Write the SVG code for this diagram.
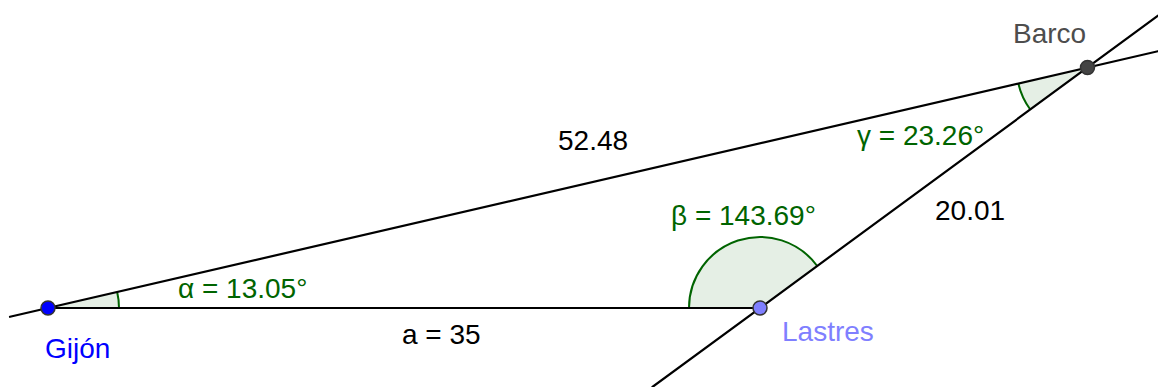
<svg xmlns="http://www.w3.org/2000/svg" width="1158" height="387" viewBox="0 0 1158 387">
<style>
.ln{stroke:#000;stroke-width:2.2;fill:none;stroke-linecap:round}
.sec{fill:#e5efe5;stroke:none}
.arc{fill:none;stroke:#006400;stroke-width:2}
text{font-family:"Liberation Sans",Arial,sans-serif;font-size:28px}
.ang{fill:#006400}
.val{fill:#000}
.pt{stroke:#333;stroke-width:1.5}
</style>
<rect width="1158" height="387" fill="#fff"/>
<g id="angles">
<path class="sec" d="M48 308 L119 308 A71 71 0 0 0 117.17 292 Z"/>
<path class="arc" d="M119 308 A71 71 0 0 0 117.17 292"/>
<path class="sec" d="M760 308 L689 308 A71 71 0 0 1 817.23 265.98 Z"/>
<path class="arc" d="M689 308 A71 71 0 0 1 817.23 265.98"/>
<path class="sec" d="M1087.5 67.5 L1018.33 83.51 A71 71 0 0 0 1030.27 109.52 Z"/>
<path class="arc" d="M1018.33 83.51 A71 71 0 0 0 1030.27 109.52"/>
</g>
<g id="connectors">
<line class="ln" x1="10" y1="316.8" x2="1158" y2="51.2"/>
<line class="ln" x1="652.4" y1="387" x2="1158" y2="15.7"/>
<line class="ln" x1="48" y1="308" x2="760" y2="308"/>
</g>
<g id="labels">
<text class="val" x="558" y="150">52.48</text>
<text class="val" x="402" y="344">a = 35</text>
<text class="val" x="935" y="220">20.01</text>
<text class="ang" x="178" y="298">α = 13.05°</text>
<text class="ang" x="671" y="225">β = 143.69°</text>
<text class="ang" x="857" y="145">γ = 23.26°</text>
</g>
<g id="gijon">
<circle class="pt" cx="48" cy="308" r="7" fill="#0000ff"/>
<text x="45" y="358" fill="#0000ff">Gijón</text>
</g>
<g id="lastres">
<circle class="pt" cx="760" cy="308" r="7" fill="#7f7fff"/>
<text x="782" y="341" fill="#7f7fff">Lastres</text>
</g>
<g id="barco">
<circle class="pt" cx="1087.5" cy="67.5" r="7" fill="#444444"/>
<text x="1013" y="43" fill="#4d4d4d">Barco</text>
</g>
</svg>
